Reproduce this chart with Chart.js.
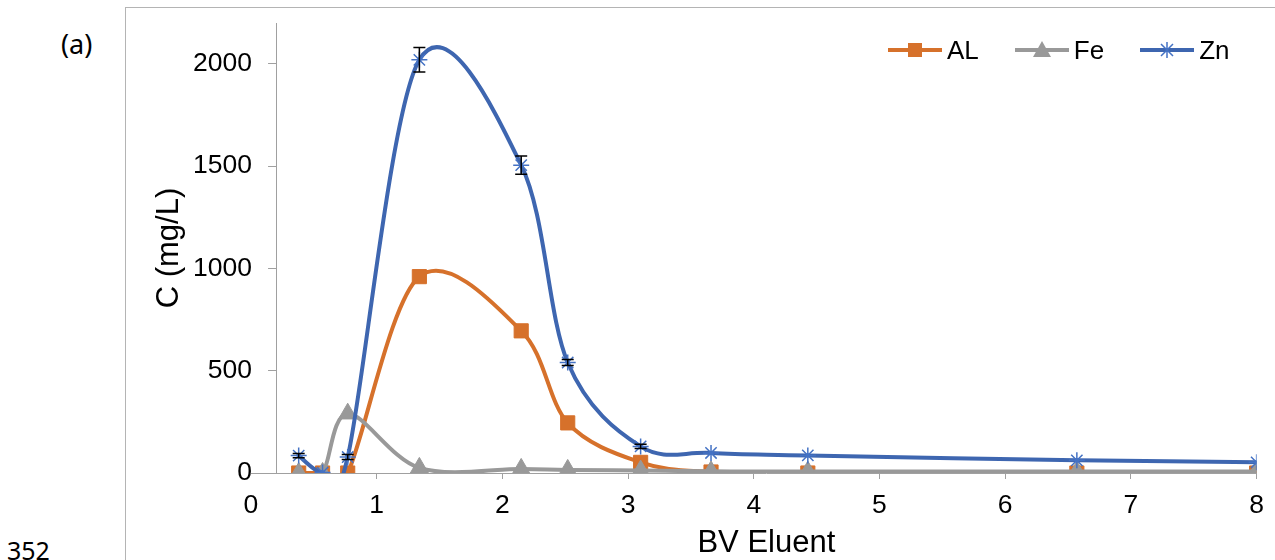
<!DOCTYPE html>
<html>
<head>
<meta charset="utf-8">
<script src="https://cdn.jsdelivr.net/npm/chart.js@4.4.1/dist/chart.umd.min.js"></script>
<style>
body { margin: 0; background: #fff; }
#wrap { position: relative; width: 1275px; height: 560px; overflow: hidden; }
#frame { position: absolute; left: 125px; top: 7px; width: 1200px; height: 600px; border-left: 1px solid #b4b4b4; border-top: 1px solid #b4b4b4; }
canvas { position: absolute; left: 0; top: 0; }
.note { position: absolute; font-family: 'Noto Sans', sans-serif; line-height: 1; color: #000; }
#legend { position: absolute; left: 888px; top: 35px; height: 30px; display: flex; align-items: center; font-family: 'Liberation Sans', Arial, sans-serif; font-size: 26px; color: #000; }
.item { display: flex; align-items: center; margin-right: 36px; }
.item svg { margin-right: 5px; }
</style>
</head>
<body>
<div id="wrap">
  <div id="frame"></div>
  <div class="note" style="left:61px; top:30px; font-size:27px;">(a)</div>
  <div class="note" style="left:7px; top:538px; font-size:25px;">352</div>
  <canvas id="chart" width="1275" height="560"></canvas>
  <div id="legend">
    <div class="item">
      <svg width="54" height="22"><line x1="0" y1="11" x2="54" y2="11" stroke="#d6712b" stroke-width="4"/><rect x="20" y="4" width="14" height="14" fill="#d6712b"/></svg>AL
    </div>
    <div class="item">
      <svg width="54" height="22"><line x1="0" y1="11" x2="54" y2="11" stroke="#999999" stroke-width="4"/><polygon points="27,2 36,18 18,18" fill="#999999"/></svg>Fe
    </div>
    <div class="item">
      <svg width="54" height="22"><line x1="0" y1="11" x2="54" y2="11" stroke="#3e66b0" stroke-width="4"/><path d="M27 3 L27 19 M21 5 L33 17 M33 5 L21 17" stroke="#4472c4" stroke-width="1.5"/></svg>Zn
    </div>
  </div>
</div>
<script>
const bvEluent = [0.38, 0.57, 0.77, 1.34, 2.15, 2.52, 3.1, 3.66, 4.43, 6.57, 8.0];
const alValues = [0, 0, 0, 960, 695, 245, 52, 5, 0, 0, 0];
const feValues = [0, 0, 290, 25, 20, 15, 12, 8, 7, 7, 7];
const znValues = [85, 2, 78, 2020, 1505, 540, 130, 98, 86, 62, 52];
const znErrors = [10, 0, 12, 60, 45, 15, 10, 0, 0, 0, 0];
const xTicks = [0, 1, 2, 3, 4, 5, 6, 7, 8];
const yTicks = [0, 500, 1000, 1500, 2000];

const axisGray = '#a0a0a0';
Chart.defaults.font.family = "'Liberation Sans', Arial, sans-serif";

function series(label, values, color, style, radius, order) {
    return {
        label: label,
        data: bvEluent.map((x, i) => ({x: x, y: values[i]})),
        borderColor: color,
        backgroundColor: color,
        borderWidth: 4,
        tension: 0.4,
        pointStyle: style,
        pointRadius: radius,
        pointBorderWidth: 1,
        pointBackgroundColor: color,
        pointBorderColor: color,
        order: order
    };
}

const al = series('AL', alValues, '#d6712b', 'rect', 10, 3);
const fe = series('Fe', feValues, '#999999', 'triangle', 10.5, 2);
const zn = series('Zn', znValues, '#3e66b0', 'star', 8, 1);
zn.pointBorderColor = '#4472c4';
zn.pointBorderWidth = 1.5;

const extras = {
    id: 'extras',
    beforeDatasetsDraw(chart) {
        const {ctx, chartArea, scales: {x, y}} = chart;

        // smooth like excel: control points at 1/6 of the neighbour chord
        chart.getSortedVisibleDatasetMetas().forEach(meta => {
            const line = meta.dataset;
            if (line.updateControlPoints) line.updateControlPoints(chartArea, 'x');
            const pts = line.points;
            pts.forEach((p, i) => {
                const prev = pts[Math.max(i - 1, 0)];
                const next = pts[Math.min(i + 1, pts.length - 1)];
                const dx = (next.x - prev.x) / 6, dy = (next.y - prev.y) / 6;
                p.cp1x = p.x - dx; p.cp1y = p.y - dy;
                p.cp2x = p.x + dx; p.cp2y = p.y + dy;
            });
        });

        // x axis line runs on to x = 0, left of the value axis
        const py = Math.round(y.getPixelForValue(0)) + 0.5;
        ctx.save();
        ctx.strokeStyle = axisGray;
        ctx.lineWidth = 1;
        ctx.beginPath();
        ctx.moveTo(x.getPixelForValue(0), py);
        ctx.lineTo(chartArea.left, py);
        ctx.stroke();
        ctx.restore();
    },
    afterDatasetsDraw(chart) {
        const {ctx, scales: {x, y}} = chart;
        ctx.save();
        ctx.strokeStyle = '#000';
        ctx.lineWidth = 1.5;
        znErrors.forEach((e, i) => {
            if (!e) return;
            const px = x.getPixelForValue(bvEluent[i]);
            const top = y.getPixelForValue(znValues[i] + e);
            const bot = y.getPixelForValue(znValues[i] - e);
            ctx.beginPath();
            ctx.moveTo(px, top); ctx.lineTo(px, bot);
            ctx.moveTo(px - 6, top); ctx.lineTo(px + 6, top);
            ctx.moveTo(px - 6, bot); ctx.lineTo(px + 6, bot);
            ctx.stroke();
        });
        ctx.restore();
    }
};

new Chart(document.getElementById('chart'), {
    type: 'line',
    data: {datasets: [al, fe, zn]},
    plugins: [extras],
    options: {
        responsive: false,
        animation: false,
        events: [],
        layout: {padding: {left: 153.4, top: 23, right: 18, bottom: 0}},
        plugins: {legend: {display: false}, tooltip: {enabled: false}},
        scales: {
            x: {
                type: 'linear',
                min: 0.2,
                max: 8,
                afterBuildTicks: s => { s.ticks = xTicks.map(v => ({value: v})); },
                grid: {
                    drawOnChartArea: false,
                    tickLength: 6,
                    color: axisGray,
                    tickColor: c => (c.tick && c.tick.value === 0) ? 'rgba(0,0,0,0)' : axisGray
                },
                border: {color: axisGray},
                ticks: {autoSkip: false, maxRotation: 0, padding: 11, color: '#000', font: {size: 26.5}, callback: v => String(v)},
                title: {display: true, text: 'BV Eluent', color: '#000', font: {size: 31}, padding: {top: -8.4, bottom: -1.6}}
            },
            y: {
                min: 0,
                max: 2200,
                afterBuildTicks: s => { s.ticks = yTicks.map(v => ({value: v})); },
                grid: {drawOnChartArea: false, tickLength: 8, color: axisGray},
                border: {color: axisGray},
                ticks: {padding: 16, color: '#000', font: {size: 26.5, lineHeight: 0.5}, callback: v => String(v)},
                title: {display: true, text: 'C (mg/L)', color: '#000', font: {size: 31}, padding: {top: -3, bottom: -10.5}}
            }
        }
    }
});
</script>
</body>
</html>
